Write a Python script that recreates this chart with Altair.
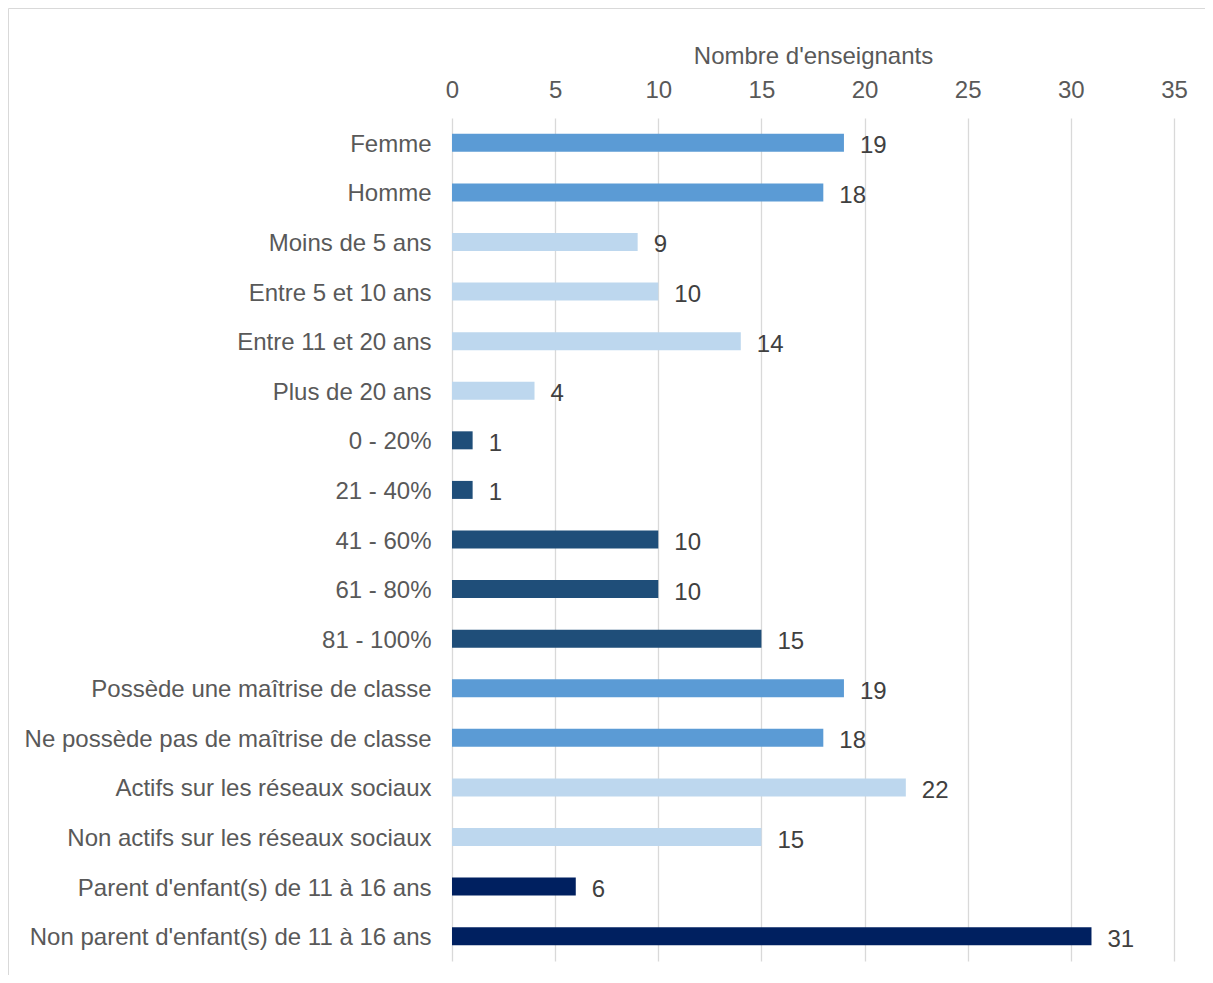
import altair as alt
import pandas as pd

categories = [
    "Femme", "Homme",
    "Moins de 5 ans", "Entre 5 et 10 ans", "Entre 11 et 20 ans", "Plus de 20 ans",
    "0 - 20%", "21 - 40%", "41 - 60%", "61 - 80%", "81 - 100%",
    "Possède une maîtrise de classe", "Ne possède pas de maîtrise de classe",
    "Actifs sur les réseaux sociaux", "Non actifs sur les réseaux sociaux",
    "Parent d'enfant(s) de 11 à 16 ans", "Non parent d'enfant(s) de 11 à 16 ans",
]
values = [19, 18, 9, 10, 14, 4, 1, 1, 10, 10, 15, 19, 18, 22, 15, 6, 31]
groups = ["g1", "g1", "g2", "g2", "g2", "g2", "g3", "g3", "g3", "g3", "g3",
          "g1", "g1", "g2", "g2", "g4", "g4"]
group_names = ["g1", "g2", "g3", "g4"]
group_colors = ["#5B9BD5", "#BDD7EE", "#1F4E79", "#002060"]
tick_values = [0, 5, 10, 15, 20, 25, 30, 35]

df = pd.DataFrame({"cat": categories, "val": values, "grp": groups})

FONT = "Liberation Sans"
FS = 24
W, H = 722, 843
PL, PT, PR, PB = 444, 110, 31, 14

y_enc = alt.Y("cat:N", sort=categories,
              scale=alt.Scale(paddingInner=0, paddingOuter=0),
              axis=alt.Axis(title=None, domain=False, ticks=False, labelPadding=21,
                            labelOffset=2,
                            labelFontSize=FS, labelColor="#595959", labelFont=FONT,
                            labelLimit=500, grid=False))
x_enc = alt.X("val:Q", scale=alt.Scale(domain=[0, 35], nice=False),
              axis=alt.Axis(orient="top", values=tick_values, title="Nombre d'enseignants",
                            titleFontSize=FS, titleFontWeight="normal", titleColor="#595959",
                            titleFont=FONT, titlePadding=10,
                            labelFontSize=FS, labelColor="#595959", labelFont=FONT,
                            labelFlush=False,
                            labelPadding=16, domain=False, ticks=False,
                            grid=True, gridColor="#D9D9D9", gridWidth=1.3))

border = alt.Chart(pd.DataFrame({"a": [0]})).mark_rect(
    fill=None, stroke="#D9D9D9", strokeWidth=1, clip=False
).encode(
    x=alt.value(-PL + 0.5), x2=alt.value(W + PR + 20),
    y=alt.value(-PT + 0.5), y2=alt.value(H + PB + 20),
)

bars = alt.Chart(df).mark_bar(size=18).encode(
    x=x_enc, y=y_enc,
    color=alt.Color("grp:N", scale=alt.Scale(domain=group_names, range=group_colors), legend=None),
)
labels = alt.Chart(df).mark_text(
    align="left", baseline="middle", dx=16, dy=3.5, fontSize=FS, font=FONT, color="#404040"
).encode(x="val:Q", y=alt.Y("cat:N", sort=categories), text="val:Q")

chart = alt.layer(border, bars, labels).properties(
    width=W, height=H,
    autosize=alt.AutoSizeParams(type="none"),
    padding={"left": PL, "top": PT, "right": PR, "bottom": PB},
    background="white",
).configure_view(stroke=None)

chart.save("out.html", embed_options={"renderer": "svg", "actions": False})
